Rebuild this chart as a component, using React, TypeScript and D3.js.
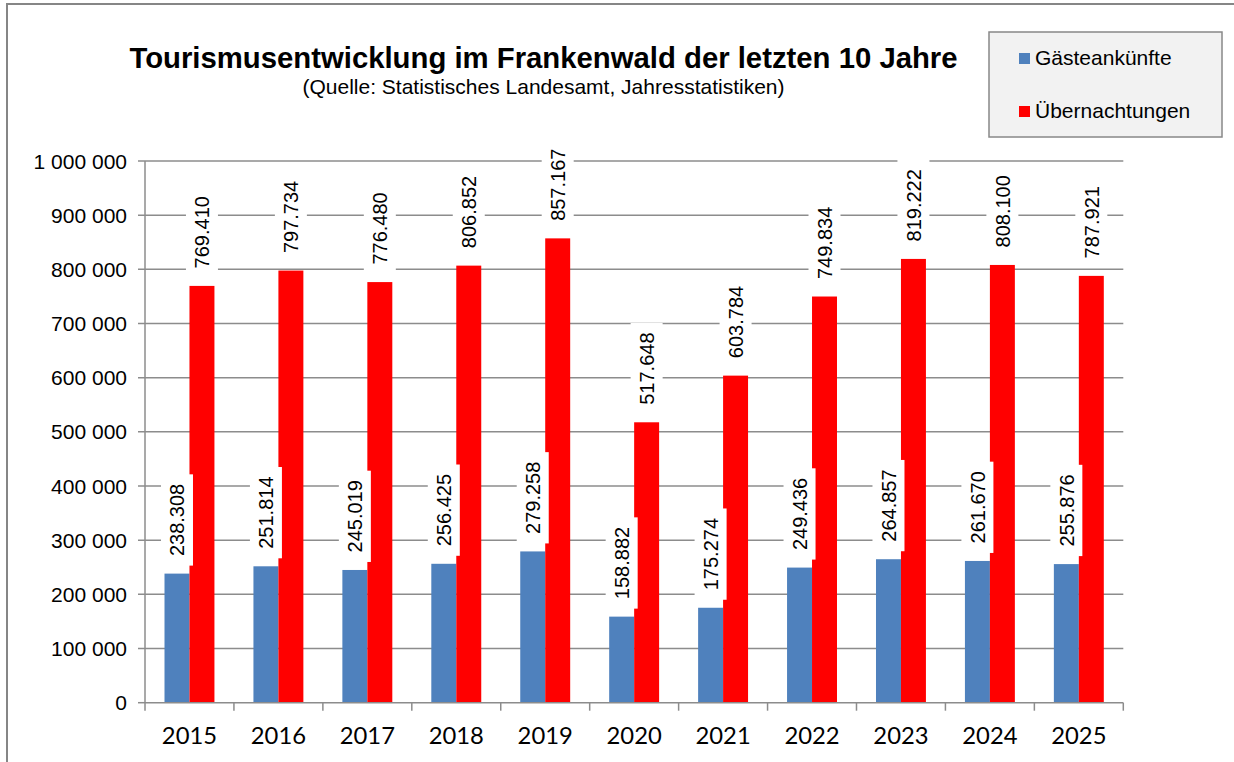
import React from "react";
import * as d3 from "d3";

const years = ["2015", "2016", "2017", "2018", "2019", "2020", "2021", "2022", "2023", "2024", "2025"];
const gaeste = [238308, 251814, 245019, 256425, 279258, 158882, 175274, 249436, 264857, 261670, 255876];
const uebernachtungen = [769410, 797734, 776480, 806852, 857167, 517648, 603784, 749834, 819222, 808100, 787921];
const seriesNames = ["Gästeankünfte", "Übernachtungen"];
const seriesColors = ["#4f81bd", "#ff0000"];
const yTicks = [0, 100000, 200000, 300000, 400000, 500000, 600000, 700000, 800000, 900000, 1000000];
const title = "Tourismusentwicklung im Frankenwald der letzten 10 Jahre";
const subtitle = "(Quelle: Statistisches Landesamt, Jahresstatistiken)";

const W = 1234, H = 762;
const plot = { left: 145, right: 1123.3, top: 161, bottom: 702.7 };
const ARIAL = "'Liberation Sans', Arial, sans-serif";

const fmtTick = (v: number) => d3.format(",")(v).replace(/,/g, " ");
const fmtLabel = (v: number) => d3.format(",")(v).replace(/,/g, ".");

export default function App() {
  const x0 = d3.scaleBand<string>().domain(years).range([plot.left, plot.right]).padding(0);
  const step = x0.step();
  const x1 = d3.scaleBand<string>().domain(seriesNames).range([19.5, step - 19.5]).padding(0);
  const y = d3.scaleLinear().domain([0, 1000000]).range([plot.bottom, plot.top]);
  const bw = x1.bandwidth();
  const data = [gaeste, uebernachtungen];

  const labelFont = 20;

  const labels: any[] = [];
  data.forEach((vals, si) => {
    vals.forEach((v, i) => {
      const cx = (x0(years[i]) as number) + (x1(seriesNames[si]) as number) + bw / 2;
      const top = y(v);
      const txt = fmtLabel(v);
      const len = txt.split("").reduce((a, c) => a + (c === "." ? 0.278 : 0.556), 0) * labelFont;
      labels.push({ cx, top, txt, len, key: `${si}-${i}` });
    });
  });

  return (
    <svg width={W} height={H} style={{ position: "absolute", left: 0, top: 0, background: "#fff" }}>
      <rect x={0} y={0} width={W} height={H} fill="#fff" />
      <rect x={7} y={4} width={W + 20} height={H + 20} fill="#fff" stroke="#868686" strokeWidth={2} />

      {/* Title */}
      <text x={543.5} y={68} textAnchor="middle" fontFamily={ARIAL} fontWeight="bold" fontSize={29.3} fill="#000">
        {title}
      </text>
      <text x={543.5} y={94} textAnchor="middle" fontFamily={ARIAL} fontSize={21} fill="#000">
        {subtitle}
      </text>

      {/* Legend */}
      <rect x={989} y={32} width={233} height={105} fill="#f2f2f2" stroke="#888" strokeWidth={1.5} />
      {seriesNames.map((s, i) => (
        <g key={s}>
          <rect x={1019} y={53 + i * 53} width={11} height={11} fill={seriesColors[i]} />
          <text x={1035} y={65 + i * 53} fontFamily={ARIAL} fontSize={21} fill="#000">
            {s}
          </text>
        </g>
      ))}

      {/* Gridlines */}
      {yTicks.map((t) => (
        <line key={t} x1={plot.left - 7} x2={t === 0 ? plot.left : plot.right} y1={y(t)} y2={y(t)} stroke="#8c8c8c" strokeWidth={1.5} />
      ))}
      {/* Y tick labels */}
      {yTicks.map((t) => (
        <text key={"l" + t} x={127} y={y(t)} dy="0.36em" textAnchor="end" fontFamily={ARIAL} fontSize={21} fill="#000">
          {fmtTick(t)}
        </text>
      ))}

      {/* Bars */}
      {data.map((vals, si) =>
        vals.map((v, i) => (
          <rect
            key={`b${si}-${i}`}
            x={(x0(years[i]) as number) + (x1(seriesNames[si]) as number)}
            y={y(v)}
            width={bw}
            height={plot.bottom - y(v)}
            fill={seriesColors[si]}
          />
        ))
      )}

      {/* Axes */}
      <line x1={plot.left} x2={plot.left} y1={plot.top} y2={plot.bottom} stroke="#8c8c8c" strokeWidth={1.5} />
      <line x1={plot.left} x2={plot.right} y1={plot.bottom} y2={plot.bottom} stroke="#8c8c8c" strokeWidth={1.5} />
      {[...years.map((yy) => x0(yy) as number), plot.right].map((xx, i) => (
        <line key={"t" + i} x1={xx} x2={xx} y1={plot.bottom} y2={plot.bottom + 8} stroke="#8c8c8c" strokeWidth={1.5} />
      ))}
      {years.map((yy) => (
        <text key={"x" + yy} x={(x0(yy) as number) + step / 2} y={744} textAnchor="middle" fontFamily="Lato, 'Open Sans', sans-serif" fontSize={23.8} fill="#000">
          {yy}
        </text>
      ))}

      {/* Data labels */}
      {labels.map((l) => {
        const boxBottom = l.top - 8;
        const boxH = l.len + 19;
        return (
          <g key={l.key}>
            <rect x={l.cx - 16} y={boxBottom - boxH} width={32} height={boxH} fill="#fff" />
            <text
              transform={`translate(${l.cx},${l.top - 17.5}) rotate(-90)`}
              dy="0.36em"
              textAnchor="start"
              fontFamily={ARIAL}
              fontSize={labelFont}
              fill="#000"
            >
              {l.txt}
            </text>
          </g>
        );
      })}
    </svg>
  );
}
